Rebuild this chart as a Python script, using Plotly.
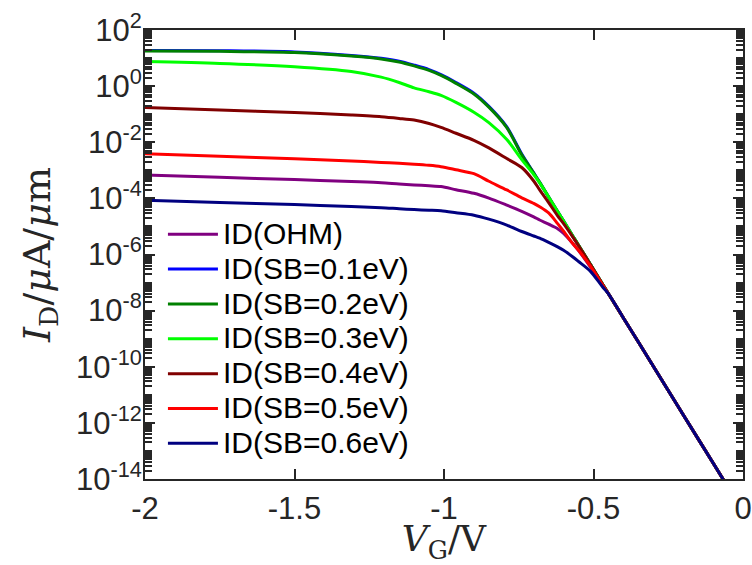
import numpy as np
import plotly.graph_objects as go

# Gate voltage grid (V)
vg = [-2.0, -1.75, -1.5, -1.31, -1.21, -1.15, -1.10, -1.05, -1.01, -0.96, -0.90, -0.85, -0.79,
      -0.74, -0.70, -0.68, -0.65, -0.62, -0.60, -0.57, -0.55, -0.51, -0.47, -0.45, -0.40,
      -0.30, -0.20, -0.10, 0.0]

# Drain current as log10(I_D / uA/um)
log_ohm = [-3.17, -3.25, -3.33, -3.40, -3.44, -3.49, -3.52, -3.55, -3.58, -3.69, -3.82, -3.99, -4.24,
           -4.46, -4.66, -4.77, -4.92, -5.08, -5.25, -5.60, -5.86, -6.45, -7.08, -7.40, -8.26,
           -9.98, -11.71, -13.43, -15.16]
log_sb01 = [1.27, 1.26, 1.22, 1.09, 0.99, 0.89, 0.75, 0.59, 0.41, 0.13, -0.25, -0.72, -1.45,
            -2.42, -3.09, -3.43, -3.95, -4.47, -4.81, -5.33, -5.67, -6.36, -7.05, -7.40, -8.26,
            -9.98, -11.71, -13.43, -15.16]
log_sb02 = [1.25, 1.24, 1.20, 1.07, 0.97, 0.86, 0.72, 0.56, 0.38, 0.10, -0.28, -0.75, -1.48,
            -2.45, -3.10, -3.43, -3.95, -4.47, -4.81, -5.33, -5.67, -6.36, -7.05, -7.40, -8.26,
            -9.98, -11.71, -13.43, -15.16]
log_sb03 = [0.88, 0.81, 0.69, 0.52, 0.32, 0.13, -0.06, -0.20, -0.33, -0.58, -0.93, -1.30, -1.90,
            -2.62, -3.15, -3.45, -3.95, -4.47, -4.81, -5.33, -5.67, -6.36, -7.05, -7.40, -8.26,
            -9.98, -11.71, -13.43, -15.16]
log_sb04 = [-0.76, -0.85, -0.94, -1.03, -1.09, -1.15, -1.21, -1.33, -1.47, -1.68, -1.93, -2.20, -2.58,
            -2.90, -3.38, -3.70, -4.15, -4.62, -4.90, -5.36, -5.68, -6.36, -7.05, -7.40, -8.26,
            -9.98, -11.71, -13.43, -15.16]
log_sb05 = [-2.41, -2.50, -2.59, -2.67, -2.72, -2.75, -2.78, -2.82, -2.87, -2.98, -3.12, -3.39, -3.70,
            -3.98, -4.18, -4.30, -4.52, -4.90, -5.17, -5.60, -5.85, -6.42, -7.08, -7.40, -8.26,
            -9.98, -11.71, -13.43, -15.16]
log_sb06 = [-4.07, -4.15, -4.22, -4.29, -4.33, -4.37, -4.40, -4.42, -4.44, -4.51, -4.60, -4.74, -4.95,
            -5.18, -5.34, -5.42, -5.57, -5.73, -5.85, -6.08, -6.25, -6.60, -7.15, -7.40, -8.26,
            -9.98, -11.71, -13.43, -15.16]

names = ["ID(OHM)", "ID(SB=0.1eV)", "ID(SB=0.2eV)", "ID(SB=0.3eV)",
         "ID(SB=0.4eV)", "ID(SB=0.5eV)", "ID(SB=0.6eV)"]
series = [log_ohm, log_sb01, log_sb02, log_sb03, log_sb04, log_sb05, log_sb06]
colors = ["#800080", "#0000FF", "#008000", "#00FF00", "#800000", "#FF0000", "#000080"]

xticks = [-2, -1.5, -1, -0.5, 0]
xticklabels = ["-2", "-1.5", "-1", "-0.5", "0"]
yexp = [2, 0, -2, -4, -6, -8, -10, -12, -14]

AX = "#262626"
FONT = "Liberation Sans, Arial, Helvetica, sans-serif"
SERIF = "DejaVu Serif, Liberation Serif, serif"

fig = go.Figure()
for nm, lg, c in zip(names, series, colors):
    fig.add_trace(go.Scatter(x=vg, y=np.power(10.0, lg), mode="lines",
                             name='<span style="font-size:30px">%s</span>' % nm,
                             line=dict(color=c, width=3, shape="spline", smoothing=0.8)))

major_vals = [10.0 ** e for e in yexp]
minor_vals = [k * 10.0 ** n for n in range(-14, 2) for k in range(1, 10)]
minor_vals = [v for v in minor_vals if v not in major_vals]

fig.update_layout(
    template="none",
    width=752, height=565,
    margin=dict(l=145, r=9, t=30, b=86, autoexpand=False),
    paper_bgcolor="white", plot_bgcolor="white",
    showlegend=True,
    legend=dict(x=0.03, y=0.595, xanchor="left", yanchor="top",
                bgcolor="rgba(255,255,255,0)", borderwidth=0,
                font=dict(family=FONT, size=24.5, color="black"),
                itemwidth=50, tracegroupgap=0),
    font=dict(family=FONT, color=AX),
)
fig.update_xaxes(
    range=[-2, 0], tickmode="array", tickvals=xticks, ticktext=xticklabels,
    ticks="inside", ticklen=10, tickwidth=2, tickcolor=AX,
    showline=True, linewidth=2, linecolor=AX, mirror="ticks",
    showgrid=False, zeroline=False, automargin=False,
    tickfont=dict(family=FONT, size=31, color=AX), ticklabelstandoff=1,
    title=dict(text="<i>V</i><sub>G</sub>/V", font=dict(family=SERIF, size=36, color=AX), standoff=7),
)
fig.update_yaxes(
    type="log", range=[-14, 2], tickmode="array",
    tickvals=major_vals,
    ticktext=["10<sup>%d</sup>" % e for e in yexp],
    ticks="inside", ticklen=10, tickwidth=2, tickcolor=AX,
    minor=dict(tickmode="array", tickvals=minor_vals, ticks="inside", ticklen=7,
               tickwidth=1.5, tickcolor=AX, showgrid=False),
    showline=True, linewidth=2, linecolor=AX, mirror="ticks",
    showgrid=False, zeroline=False, automargin=False,
    tickfont=dict(family=FONT, size=31, color=AX), ticklabelstandoff=-5,
    title=dict(text="<i>I</i><sub>D</sub>/<i>μ</i>A/<i>μ</i>m", font=dict(family=SERIF, size=38, color=AX), standoff=14),
)

fig.write_html("out.html")
